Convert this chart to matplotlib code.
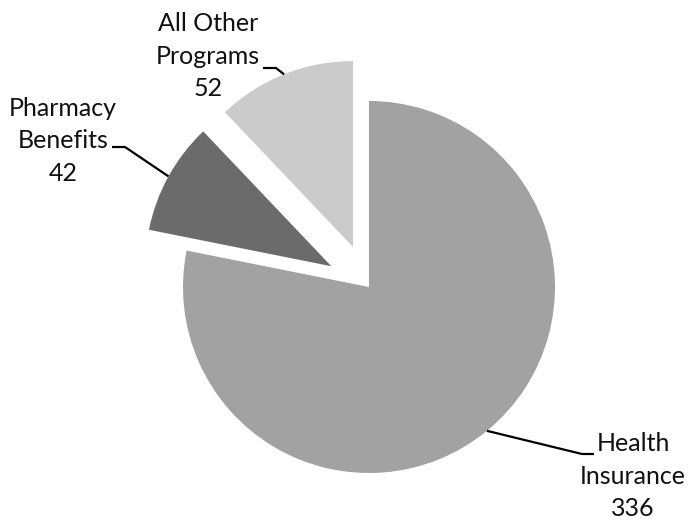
import numpy as np
import matplotlib
matplotlib.use("Agg")
import matplotlib.pyplot as plt

# data
labels = ["Health\nInsurance", "Pharmacy\nBenefits", "All Other\nPrograms"]
values = [336, 42, 52]
colors = ["#a2a2a2", "#6b6b6b", "#cbcbcb"]

W, H = 688, 520
plt.rcParams["font.family"] = ["Lato", "DejaVu Sans"]

fig = plt.figure(figsize=(W / 100, H / 100), dpi=100)
ax = fig.add_axes([0, 0, 1, 1])

# pixel-like data coords: x to the right, y up
cx, cy, r = 369, H - 287, 186
wedges, _ = ax.pie(values, colors=colors, startangle=90, counterclock=False,
                   explode=[0, 43, 43], radius=r, center=(cx, cy),
                   wedgeprops=dict(linewidth=0))
ax.set_xlim(0, W)
ax.set_ylim(0, H)
ax.set_aspect("equal")
ax.axis("off")

# label layout: text centre x, text top y (pixels from top), elbow, text-side end
layout = [
    dict(tx=633, ty=432, elbow=(582, 454), end=(594, 454)),
    dict(tx=63, ty=97, elbow=(125, 147), end=(112, 147)),
    dict(tx=208, ty=12, elbow=(276, 68), end=(263, 68)),
]

for w, lab, val, lo in zip(wedges, labels, values, layout):
    mid = np.deg2rad((w.theta1 + w.theta2) / 2)
    x0 = w.center[0] + w.r * np.cos(mid)
    y0 = w.center[1] + w.r * np.sin(mid)
    ex, ey = lo["elbow"]
    sx, sy = lo["end"]
    ax.plot([x0, ex, sx], [y0, H - ey, H - sy], color="black", lw=1.6,
            solid_capstyle="butt", solid_joinstyle="miter")
    ax.text(lo["tx"], H - lo["ty"], f"{lab}\n{val}", ha="center", va="top",
            fontsize=18, linespacing=1.5, color="#111111")

fig.savefig("out.png", dpi=100, facecolor="white")
